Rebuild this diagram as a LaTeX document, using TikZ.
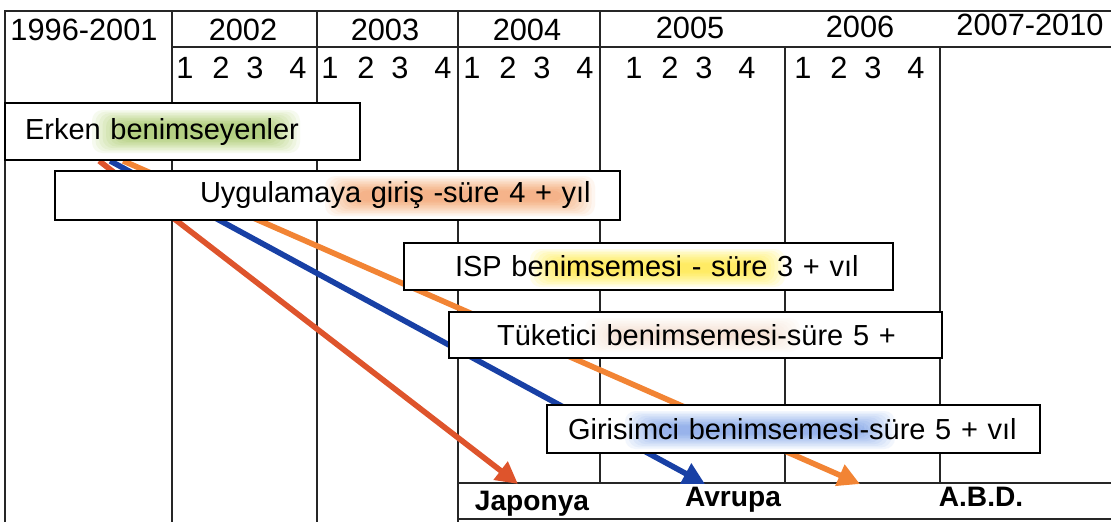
\documentclass[tikz,border=0pt]{standalone}
\usepackage{fontspec}
\setmainfont{Liberation Sans}
\usetikzlibrary{arrows.meta,backgrounds}
\setlength{\parindent}{0pt}

\definecolor{jpred}{RGB}{222,84,44}
\definecolor{eublue}{RGB}{24,64,165}
\definecolor{usorange}{RGB}{242,132,52}
\definecolor{hlgreen}{RGB}{165,205,80}
\definecolor{hlorange}{RGB}{245,150,70}
\definecolor{hlyellow}{RGB}{255,240,40}
\definecolor{hlpeach}{RGB}{250,205,175}
\definecolor{hlblue}{RGB}{100,150,230}

% soft marker glow: #1 colour, #2 strength, then the corners
\newcommand{\hilite}[6]{%
  \foreach \k in {0,...,9}
    \fill[#1, opacity=#2, blend mode=multiply, rounded corners=6pt]
      (#3+3.5*\k,#4+1.6*\k) rectangle (#5-3.5*\k,#6-1.6*\k);}

\begin{document}
\begin{tikzpicture}[x=0.02cm, y=-0.02cm,
    grid/.style={line width=0.7pt, black!85},
    yr/.style={font=\fontsize{17.5}{20}\selectfont, inner sep=0pt},
    qt/.style={font=\fontsize{17.5}{20}\selectfont, inner sep=0pt},
    bar/.style={draw, line width=1pt, fill=white, inner xsep=0pt, inner ysep=0pt, align=left, font=\fontsize{16.5}{20}\selectfont},
    land/.style={font=\bfseries\fontsize{16}{20}\selectfont, inner sep=0pt},
    flow/.style={line width=3.2pt, -{Triangle[length=0.44cm, width=0.44cm]}}]
    \useasboundingbox (0,0) rectangle (1111,522);

    \node[yr] (p0) at (84,30) {1996-2001};
    \node[yr] (p2) at (243,30) {2002};
    \node[yr] (p3) at (385,30) {2003};
    \node[yr] (p4) at (527,30) {2004};
    \node[yr] (p5) at (690,28) {2005};
    \node[yr] (p6) at (860,27) {2006};
    \node[yr] (p7) at (1030,25) {2007-2010};
    \foreach \s [count=\n from 2] in {185,330,472,634,803}
      \foreach \d/\dx in {1/0,2/36,3/70,4/113}
        \node[qt] (q\n\d) at (\s+\dx,68) {\d};

    \node[bar, text width=7.1cm, minimum height=1.14cm] (erken) at (182.5,131.5) {\hspace*{0.4cm}Erken benimseyenler};
    \node[bar, text width=11.3cm, minimum height=0.98cm] (giris) at (337.5,195.5) {\hspace*{2.9cm}Uygulamaya giriş -süre 4 + yıl};
    \node[bar, text width=9.78cm, minimum height=0.94cm] (isp) at (648.5,266.5) {\hspace*{1.02cm}ISP benimsemesi - süre 3 + vıl};
    \node[bar, text width=9.86cm, minimum height=0.92cm] (tuketici) at (695.5,335) {\hspace*{0.96cm}Tüketici benimsemesi-süre 5 +};
    \node[bar, text width=9.86cm, minimum height=0.96cm] (girisimci) at (793.5,429) {\hspace*{0.42cm}Girisimci benimsemesi-süre 5 + vıl};

    \hilite{hlgreen}{0.09}{92}{110}{300}{153}
    \hilite{hlorange}{0.08}{325}{176}{595}{216}
    \hilite{hlyellow}{0.1}{530}{249}{785}{287}
    \hilite{hlpeach}{0.05}{585}{318}{800}{352}
    \hilite{hlblue}{0.08}{625}{411}{895}{449}

    \node[land] (jp) at (532,504) {Japonya};
    \node[land] (eu) at (733,500) {Avrupa};
    \node[land] (usa) at (981,497) {A.B.D.};

    \begin{scope}[on background layer]
      \draw[grid] (5,522) -- (5,11) -- (1111,11);
      \draw[grid] (172,47) -- (1111,47);
      \foreach \x in {172,317,458} \draw[grid] (\x,11) -- (\x,522);
      \draw[grid] (600,11) -- (600,483);
      \foreach \x in {785,940} \draw[grid] (\x,47) -- (\x,483);
      \draw[grid] (458,483) -- (1111,483) (458,519) -- (1111,519);
      \coordinate (jpend) at (518,484);
      \coordinate (euend) at (705,484);
      \coordinate (usend) at (860,484);
      \draw[flow, jpred] ([xshift=1.9cm]erken.south west) -- (jpend);
      \draw[flow, eublue] ([xshift=2.12cm]erken.south west) -- (euend);
      \draw[flow, usorange] ([xshift=2.38cm]erken.south west) -- (usend);
    \end{scope}
\end{tikzpicture}
\end{document}
